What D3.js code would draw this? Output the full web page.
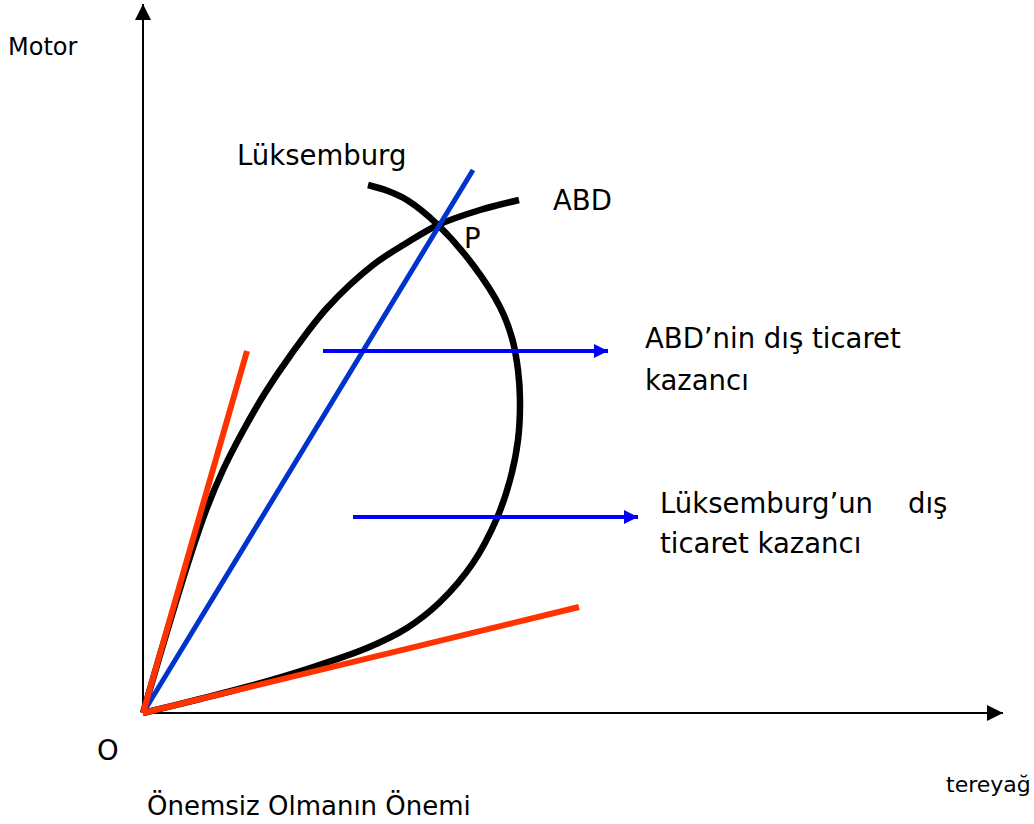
<!DOCTYPE html>
<html><head><meta charset="utf-8">
<script src="https://cdn.jsdelivr.net/npm/d3@7"></script>
<style>body{margin:0;background:#fff}svg{display:block}text{font-family:"DejaVu Sans",Verdana,sans-serif;fill:#000}</style>
</head><body><svg id="c" width="1034" height="824"></svg>
<script>
// Data (units: goods quantity, arbitrary)
const abdCurve = [[0,0],[17,58],[32,108],[47,156],[62,200],[80,243],[100,282],[122,320],[147,357],[184,405],[230,448],[262,469],[295,488],[337,503],[376,513]];
const luxCurve = [[0,0],[57,14],[107,27],[164,44],[224,65],[264,85],[297,111],[330,150],[354,195],[367,233],[375,273],[377,313],[375,343],[369,375],[357,406],[330,448],[295,488],[264,513],[245,522],[225,528]];
const tradeLine = [[0,0],[330,543]];
const redLines = [[[0,0],[104,362]],[[0,0],[436,106]]];
const gainArrows = [{from:[180,362],to:[465,362]},{from:[210,196],to:[495,196]}];
const axisLabels = {y:"Motor", x:"tereyağ"};
const curveLabels = ["Lüksemburg","ABD","P","O"];
const gainText1 = ["ABD’nin dış ticaret","kazancı"];
const gainText2 = ["Lüksemburg’un    dış","ticaret kazancı"];
const title = "Önemsiz Olmanın Önemi";

const svg = d3.select("#c");
const x = d3.scaleLinear().domain([0,860]).range([143,1003]);
const y = d3.scaleLinear().domain([0,710]).range([713,3]);

const defs = svg.append("defs");
function marker(id,color,w,h){
  defs.append("marker").attr("id",id).attr("viewBox","0 0 10 10").attr("refX",10).attr("refY",5)
   .attr("markerUnits","userSpaceOnUse").attr("markerWidth",w).attr("markerHeight",h).attr("orient","auto")
   .append("path").attr("d","M0,0L10,5L0,10Z").attr("fill",color);
}
marker("ax","#000",16,16);
marker("bl","#0000ff",16,14);

// axes
svg.append("line").attr("x1",x(0)).attr("y1",y(0)).attr("x2",x(0)).attr("y2",y(709)).attr("stroke","#000").attr("stroke-width",2).attr("marker-end","url(#ax)");
svg.append("line").attr("x1",x(0)).attr("y1",y(0)).attr("x2",x(860)).attr("y2",y(0)).attr("stroke","#000").attr("stroke-width",2).attr("marker-end","url(#ax)");

const line = d3.line().x(d=>x(d[0])).y(d=>y(d[1]));
const smooth = d3.line().x(d=>x(d[0])).y(d=>y(d[1])).curve(d3.curveCatmullRom.alpha(0.5));

svg.append("path").attr("d",smooth(abdCurve)).attr("fill","none").attr("stroke","#000").attr("stroke-width",6.5).attr("stroke-linejoin","round");
svg.append("path").attr("d",smooth(luxCurve)).attr("fill","none").attr("stroke","#000").attr("stroke-width",6.5).attr("stroke-linejoin","round");
svg.append("path").attr("d",line(tradeLine)).attr("fill","none").attr("stroke","#0033cc").attr("stroke-width",5);
redLines.forEach(l=>svg.append("path").attr("d",line(l)).attr("fill","none").attr("stroke","#ff3300").attr("stroke-width",6));
gainArrows.forEach(a=>svg.append("line").attr("x1",x(a.from[0])).attr("y1",y(a.from[1])).attr("x2",x(a.to[0])).attr("y2",y(a.to[1]))
  .attr("stroke","#0000ff").attr("stroke-width",4).attr("marker-end","url(#bl)"));

function txt(t,px,py,size){ svg.append("text").attr("x",px).attr("y",py).attr("font-size",size).attr("xml:space","preserve").style("white-space","pre").text(t); }
txt(axisLabels.y,8,55,24);
txt(axisLabels.x,946,792,22);
txt(curveLabels[0],237,165,27.5);
txt(curveLabels[1],553,210,27.5);
txt(curveLabels[2],464,248,27.5);
txt(curveLabels[3],97,760,27.5);
txt(gainText1[0],645,348,27.5);
txt(gainText1[1],645,390,27.5);
txt(gainText2[0],660,513,27.5);
txt(gainText2[1],660,553,27.5);
txt(title,147,815,26);
</script></body></html>
